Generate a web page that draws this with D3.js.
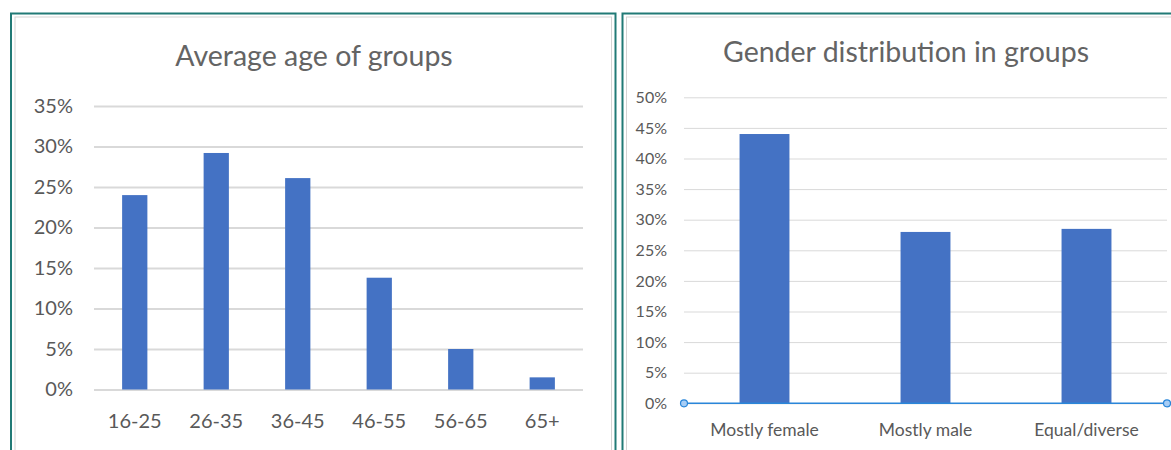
<!DOCTYPE html>
<html>
<head>
<meta charset="utf-8">
<script src="https://cdn.jsdelivr.net/npm/d3@7"></script>
<style>
  body { margin: 0; background: #fff; }
  svg { display: block; }
  text { font-family: Lato, "Open Sans", sans-serif; fill: #595959; }
</style>
</head>
<body>
<div id="chart"></div>
<script>
// age chart data
const ageGroups = ["16-25", "26-35", "36-45", "46-55", "56-65", "65+"];
const ageShares = [24.0, 29.2, 26.1, 13.8, 5.0, 1.5];
const ageTicks = [0, 5, 10, 15, 20, 25, 30, 35];

// gender chart data
const genderGroups = ["Mostly female", "Mostly male", "Equal/diverse"];
const genderShares = [44.0, 28.0, 28.5];
const genderTicks = [0, 5, 10, 15, 20, 25, 30, 35, 40, 45, 50];

const barColor = "#4472c4";

const svg = d3.select("#chart")
    .append("svg")
    .attr("width", 1171)
    .attr("height", 450);

// panel frames (teal outer, light grey inner)
function drawFrame(x0, x1) {
    svg.append("rect")
        .attr("x", x0).attr("y", 13.5)
        .attr("width", x1 - x0).attr("height", 500)
        .attr("fill", "none").attr("stroke", "#217a76").attr("stroke-width", 2);
    svg.append("rect")
        .attr("x", x0 + 4).attr("y", 17)
        .attr("width", x1 - x0 - 8).attr("height", 500)
        .attr("fill", "none").attr("stroke", "#d4d4d4").attr("stroke-width", 1);
}
drawFrame(11, 615.5);
drawFrame(622.5, 1190);

// Function to draw one column chart
function drawColumns(opts) {
    const g = svg.append("g");

    const x = d3.scaleBand()
        .domain(opts.categories)
        .range(opts.xRange)
        .paddingInner(0.69)
        .paddingOuter(0.345);

    const y = d3.scaleLinear()
        .domain([0, d3.max(opts.ticks)])
        .range(opts.yRange);

    // gridlines
    g.append("g")
        .attr("transform", `translate(${opts.xRange[0]},0)`)
        .call(d3.axisRight(y).tickValues(opts.ticks).tickSize(opts.xRange[1] - opts.xRange[0]).tickFormat(""))
        .call(a => a.select(".domain").remove())
        .selectAll("line")
        .attr("stroke", "#d9d9d9")
        .attr("stroke-width", opts.gridWidth);

    // y labels
    g.append("g")
        .attr("transform", `translate(${opts.xRange[0]},0)`)
        .call(d3.axisLeft(y).tickValues(opts.ticks).tickSize(0).tickPadding(opts.yPad).tickFormat(d => d + "%"))
        .call(a => a.select(".domain").remove())
        .selectAll("text")
        .style("font-size", opts.yFont + "px")
        .attr("fill", "#595959");

    // bars
    g.selectAll(".bar")
        .data(opts.values)
        .enter()
        .append("rect")
        .attr("class", "bar")
        .attr("x", (d, i) => x(opts.categories[i]))
        .attr("y", d => y(d))
        .attr("width", x.bandwidth())
        .attr("height", d => y(0) - y(d))
        .attr("fill", barColor);

    // x labels
    g.append("g")
        .attr("transform", `translate(0,${opts.yRange[0]})`)
        .call(d3.axisBottom(x).tickSize(0).tickPadding(opts.xPad))
        .call(a => a.select(".domain").remove())
        .selectAll("text")
        .style("font-size", opts.xFont + "px")
        .attr("fill", "#595959");

    // title
    g.append("text")
        .attr("x", opts.titleX)
        .attr("y", opts.titleY)
        .attr("text-anchor", "middle")
        .style("font-size", "28.5px")
        .style("fill", "#646464")
        .text(opts.title);

    return { x, y, g };
}

drawColumns({
    categories: ageGroups, values: ageShares, ticks: ageTicks,
    xRange: [94, 583], yRange: [389.5, 106],
    gridWidth: 2, yPad: 21, yFont: 20, xPad: 24, xFont: 20,
    title: "Average age of groups", titleX: 314, titleY: 66
});

const gender = drawColumns({
    categories: genderGroups, values: genderShares, ticks: genderTicks,
    xRange: [684, 1167], yRange: [403.3, 97.3],
    gridWidth: 1, yPad: 17, yFont: 16, xPad: 20, xFont: 17.5,
    title: "Gender distribution in groups", titleX: 906, titleY: 62
});

// selected horizontal axis on the gender chart
const axisY = gender.y(0);
gender.g.append("line")
    .attr("x1", 684).attr("x2", 1167)
    .attr("y1", axisY).attr("y2", axisY)
    .attr("stroke", "#2a86d9").attr("stroke-width", 1.5);
gender.g.selectAll(".handle")
    .data([684, 1167])
    .enter()
    .append("circle")
    .attr("class", "handle")
    .attr("cx", d => d).attr("cy", axisY).attr("r", 3.5)
    .attr("fill", "#a7cdf5").attr("stroke", "#2a86d9").attr("stroke-width", 1.2);
</script>
</body>
</html>
